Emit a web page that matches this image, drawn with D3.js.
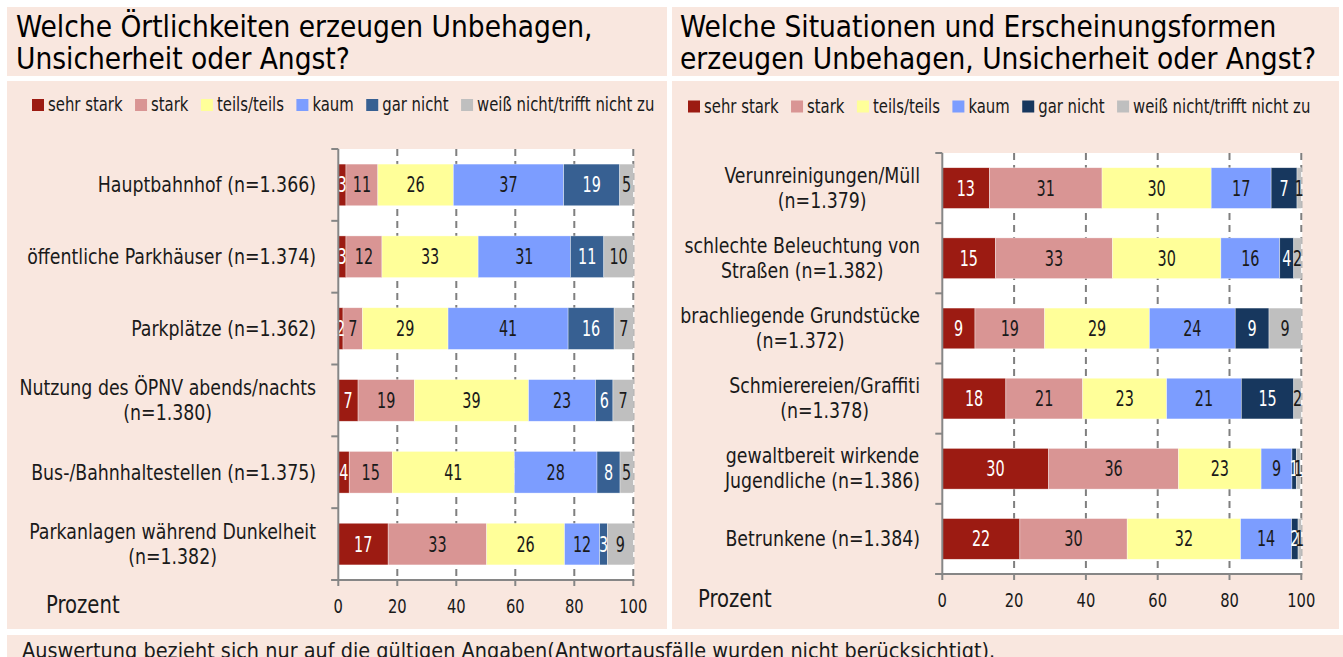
<!DOCTYPE html>
<html>
<head>
<meta charset="utf-8">
<script src="https://cdn.jsdelivr.net/npm/d3@7"></script>
<style>
  html, body { margin: 0; padding: 0; background: #ffffff; }
  svg { display: block; }
  text { font-family: 'DejaVu Sans Condensed', 'DejaVu Sans', sans-serif; }
</style>
</head>
<body>
<svg id="chart" width="1343" height="657"></svg>
<script>
// ---------------- DATA ----------------
const categories = ["sehr stark", "stark", "teils/teils", "kaum", "gar nicht", "weiß nicht/trifft nicht zu"];

const leftTitle = ["Welche Örtlichkeiten erzeugen Unbehagen,", "Unsicherheit oder Angst?"];
const rightTitle = ["Welche Situationen und Erscheinungsformen", "erzeugen Unbehagen, Unsicherheit oder Angst?"];

const leftLabels = [
  ["Hauptbahnhof (n=1.366)"],
  ["öffentliche Parkhäuser (n=1.374)"],
  ["Parkplätze (n=1.362)"],
  ["Nutzung des ÖPNV abends/nachts", "(n=1.380)"],
  ["Bus-/Bahnhaltestellen (n=1.375)"],
  ["Parkanlagen während Dunkelheit", "(n=1.382)"]
];
const leftSehrStark  = [2.6, 2.6, 1.6, 6.7, 3.7, 16.9];
const leftStark      = [10.8, 12.2, 6.6, 19.1, 14.6, 33.4];
const leftTeils      = [25.6, 32.6, 29.0, 38.7, 41.4, 26.4];
const leftKaum       = [37.4, 31.3, 40.7, 22.7, 28.0, 11.9];
const leftGarNicht   = [19.0, 11.3, 15.6, 5.9, 7.8, 2.6];
const leftWeissNicht = [4.6, 10.0, 6.5, 6.9, 4.5, 8.8];

const rightLabels = [
  ["Verunreinigungen/Müll", "(n=1.379)"],
  ["schlechte Beleuchtung von", "Straßen (n=1.382)"],
  ["brachliegende Grundstücke", "(n=1.372)"],
  ["Schmierereien/Graffiti", "(n=1.378)"],
  ["gewaltbereit wirkende", "Jugendliche (n=1.386)"],
  ["Betrunkene (n=1.384)"]
];
const rightSehrStark  = [13.1, 14.8, 9.1, 17.7, 29.6, 21.6];
const rightStark      = [31.4, 32.6, 19.4, 21.4, 36.2, 29.9];
const rightTeils      = [30.4, 30.2, 29.2, 23.4, 23.0, 31.6];
const rightKaum       = [16.7, 16.4, 23.9, 20.8, 8.6, 14.2];
const rightGarNicht   = [7.2, 3.9, 9.4, 14.6, 1.2, 1.8];
const rightWeissNicht = [1.2, 2.1, 9.0, 2.1, 1.1, 0.9];

const xTicks = [0, 20, 40, 60, 80, 100];
const axisLabel = "Prozent";
const footnote = "Auswertung bezieht sich nur auf die gültigen Angaben(Antwortausfälle wurden nicht berücksichtigt).";

// ---------------- STYLE ----------------
const PANEL = "#f9e7df";
const leftColors  = ["#9c1b12", "#d99594", "#ffff99", "#7c9dff", "#376092", "#bfbfbf"];
const rightColors = ["#9c1b12", "#d99594", "#ffff99", "#7c9dff", "#17375e", "#bfbfbf"];
const labelColors = ["#ffffff", "#1a1a1a", "#1a1a1a", "#1a1a1a", "#ffffff", "#1a1a1a"];
const AXIS = "#868686";
const INK = "#1a1a1a";

const svg = d3.select("#chart");

// text helper with horizontal condensing
function txt(parent, x, y, s, o) {
  const sx = o.sx || 1;
  return parent.append("text")
    .attr("transform", `translate(${x},${y}) scale(${sx},1)`)
    .attr("font-size", o.size)
    .attr("text-anchor", o.anchor || "start")
    .attr("fill", o.fill || INK)
    .text(s);
}

// panels
const panels = [
  {x: 7, y: 7, w: 660, h: 69},
  {x: 672, y: 7, w: 667, h: 69},
  {x: 7, y: 81, w: 660, h: 548},
  {x: 672, y: 81, w: 667, h: 548},
  {x: 7, y: 635, w: 1336, h: 30}
];
svg.selectAll("rect.panel").data(panels).enter().append("rect")
  .attr("class", "panel")
  .attr("x", d => d.x).attr("y", d => d.y).attr("width", d => d.w).attr("height", d => d.h)
  .attr("fill", PANEL);

function drawTitle(lines, x) {
  lines.forEach((l, i) => txt(svg, x, 37 + i * 31.5, l, {size: 29.5, fill: "#000"}));
}
drawTitle(leftTitle, 16);
drawTitle(rightTitle, 680);

function drawLegend(x0, y0, colors) {
  const g = svg.append("g").attr("transform", `translate(${x0},${y0})`);
  const sx = 0.87;
  let x = 0;
  categories.forEach((c, i) => {
    g.append("rect").attr("x", x).attr("y", -12).attr("width", 12).attr("height", 12).attr("fill", colors[i]);
    const t = txt(g, x + 16, 0, c, {size: 19, sx});
    x += 16 + t.node().getComputedTextLength() * sx + 12.5;
  });
}
drawLegend(32, 111, leftColors);
drawLegend(688, 112.5, rightColors);

function drawChart(opt) {
  const series = opt.series;
  const n = opt.labels.length;
  const rows = d3.range(n).map(i => {
    let acc = 0;
    return series.map((s, k) => { const v = s[i]; const seg = {k, x0: acc, x1: acc + v, v}; acc += v; return seg; });
  });
  const x = d3.scaleLinear().domain([0, 100]).range([opt.x0, opt.x1]);
  const y = d3.scaleBand().domain(d3.range(n)).range([opt.y0, opt.y1]).paddingInner(0.42).paddingOuter(0.21);
  const g = svg.append("g");

  // plot background
  g.append("rect").attr("x", opt.x0).attr("y", opt.y0).attr("width", opt.x1 - opt.x0 + 1)
    .attr("height", opt.y1 - opt.y0).attr("fill", "#ffffff");

  // gridlines
  g.selectAll("line.grid").data(xTicks.slice(1)).enter().append("line")
    .attr("x1", d => x(d)).attr("x2", d => x(d)).attr("y1", opt.y0).attr("y2", opt.y1)
    .attr("stroke", "#7f7f7f").attr("stroke-width", 2).attr("stroke-dasharray", "7,5");

  // bars
  const rowG = g.selectAll("g.row").data(rows).enter().append("g")
    .attr("transform", (d, i) => `translate(0,${y(i)})`);
  rowG.selectAll("rect").data(d => d).enter().append("rect")
    .attr("x", d => x(d.x0)).attr("width", d => x(d.x1) - x(d.x0))
    .attr("y", 0).attr("height", y.bandwidth())
    .attr("fill", d => opt.colors[d.k])
    .attr("stroke", "rgba(255,255,255,0.6)").attr("stroke-width", 0.6);
  rowG.each(function(row) {
    const rg = d3.select(this);
    row.forEach(d => {
      txt(rg, (x(d.x0) + x(d.x1)) / 2, y.bandwidth() / 2 + 7.5, Math.round(d.v),
        {size: 20.5, sx: 0.78, anchor: "middle", fill: labelColors[d.k]});
    });
  });

  // y axis
  const bounds = d3.range(n + 1).map(i => opt.y0 + i * (opt.y1 - opt.y0) / n);
  g.append("line").attr("x1", opt.x0).attr("x2", opt.x0).attr("y1", opt.y0).attr("y2", opt.y1)
    .attr("stroke", AXIS).attr("stroke-width", 2);
  g.selectAll("line.ytick").data(bounds).enter().append("line")
    .attr("x1", opt.x0 - 7).attr("x2", opt.x0).attr("y1", d => d).attr("y2", d => d)
    .attr("stroke", AXIS).attr("stroke-width", 2);

  // x axis
  g.append("line").attr("x1", opt.x0 - 7).attr("x2", opt.x1 + 1).attr("y1", opt.y1).attr("y2", opt.y1)
    .attr("stroke", AXIS).attr("stroke-width", 2);
  g.selectAll("line.xtick").data(xTicks).enter().append("line")
    .attr("x1", d => x(d)).attr("x2", d => x(d)).attr("y1", opt.y1).attr("y2", opt.y1 + 6)
    .attr("stroke", AXIS).attr("stroke-width", 2);
  xTicks.forEach(d => txt(g, x(d), opt.tickBase, d, {size: 19.5, sx: 0.84, anchor: "middle"}));

  txt(g, opt.prozentX, opt.tickBase, axisLabel, {size: 24, sx: 0.91});

  // category labels
  const lsx = 0.92;
  opt.labels.forEach((lines, i) => {
    const cy = y(i) + y.bandwidth() / 2;
    const ts = lines.map((l, j) => {
      const base = lines.length === 1 ? cy + 7.5 : cy - 5.5 + j * 25;
      return txt(g, 0, base, l, {size: 21, sx: lsx, anchor: "middle"});
    });
    const maxW = d3.max(ts, t => t.node().getComputedTextLength()) * lsx;
    const cx = opt.labelRight - maxW / 2;
    ts.forEach((t, j) => {
      const base = lines.length === 1 ? cy + 7.5 : cy - 5.5 + j * 25;
      t.attr("transform", `translate(${cx},${base}) scale(${lsx},1)`);
    });
  });
}

drawChart({
  labels: leftLabels,
  series: [leftSehrStark, leftStark, leftTeils, leftKaum, leftGarNicht, leftWeissNicht],
  colors: leftColors,
  x0: 338.3, x1: 633.3, y0: 149, y1: 580,
  tickBase: 612.5, prozentX: 46, labelRight: 316
});
drawChart({
  labels: rightLabels,
  series: [rightSehrStark, rightStark, rightTeils, rightKaum, rightGarNicht, rightWeissNicht],
  colors: rightColors,
  x0: 942.3, x1: 1301.3, y0: 153, y1: 574,
  tickBase: 607, prozentX: 698, labelRight: 920
});

txt(svg, 22, 657.5, footnote, {size: 22, sx: 0.975});
</script>
</body>
</html>
